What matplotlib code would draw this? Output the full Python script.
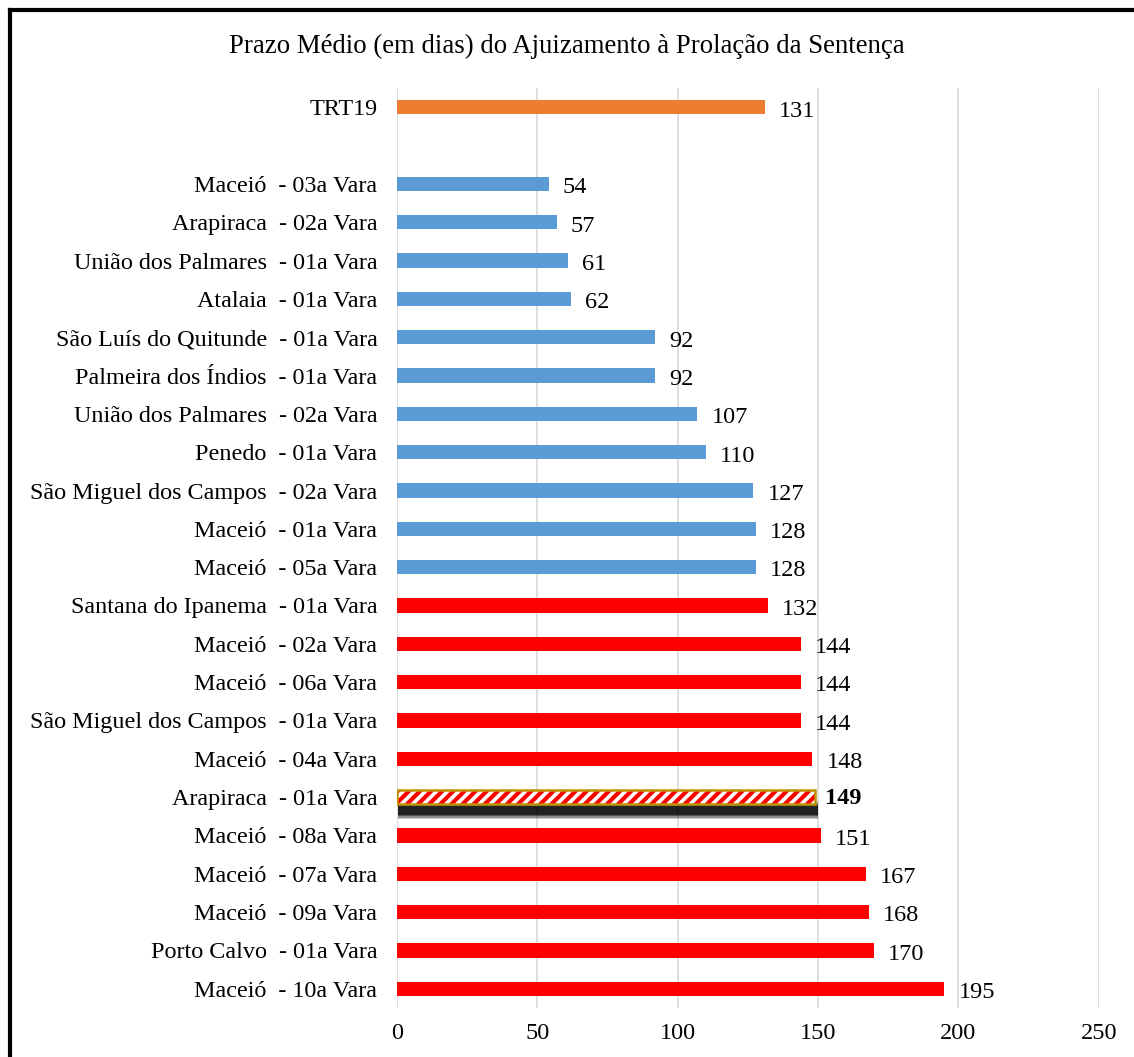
import matplotlib.pyplot as plt
from matplotlib.lines import Line2D

# dados do gráfico (de cima para baixo); '' = linha vazia
labels = ['TRT19', '',
          'Maceió  - 03a Vara', 'Arapiraca  - 02a Vara', 'União dos Palmares  - 01a Vara',
          'Atalaia  - 01a Vara', 'São Luís do Quitunde  - 01a Vara', 'Palmeira dos Índios  - 01a Vara',
          'União dos Palmares  - 02a Vara', 'Penedo  - 01a Vara', 'São Miguel dos Campos  - 02a Vara',
          'Maceió  - 01a Vara', 'Maceió  - 05a Vara', 'Santana do Ipanema  - 01a Vara',
          'Maceió  - 02a Vara', 'Maceió  - 06a Vara', 'São Miguel dos Campos  - 01a Vara',
          'Maceió  - 04a Vara', 'Arapiraca  - 01a Vara', 'Maceió  - 08a Vara',
          'Maceió  - 07a Vara', 'Maceió  - 09a Vara', 'Porto Calvo  - 01a Vara',
          'Maceió  - 10a Vara']
values = [131, None, 54, 57, 61, 62, 92, 92, 107, 110, 127, 128, 128,
          132, 144, 144, 144, 148, 149, 151, 167, 168, 170, 195]
groups = ['trt', None] + ['abaixo'] * 11 + ['acima'] * 11
destaque = 'Arapiraca  - 01a Vara'

cores = {'trt': '#ED7D31', 'abaixo': '#5B9BD5', 'acima': '#FF0000'}

plt.rcParams['font.family'] = ['Liberation Serif', 'DejaVu Serif']
plt.rcParams['hatch.linewidth'] = 3.0

fig = plt.figure(figsize=(11.34, 10.57), dpi=100)
ax = fig.add_axes([0.350, 0.0464, 0.619, 0.8703])

h = 0.37
for i, (lab, v, g) in enumerate(zip(labels, values, groups)):
    if v is None:
        continue
    if lab == destaque:
        # sombra desfocada abaixo da barra
        for hh, a in [(0.48, 0.2), (0.40, 0.3), (0.32, 0.4), (0.24, 0.6)]:
            ax.barh(i + 0.34, v + 0.8, height=hh, left=0.3, color='black', alpha=a,
                    linewidth=0, zorder=2)
        ax.barh(i, v, height=h, color='white', linewidth=0, zorder=3)
        ax.barh(i, v, height=h, color='none', edgecolor='#FF0000', hatch='///',
                linewidth=0, zorder=3)
        ax.barh(i, v, height=h, color='none', edgecolor='#BF9000', linewidth=1.8, zorder=4)
        ax.text(v + 3.5, i + 0.03, str(v), va='center', ha='left', fontsize=17.5, fontweight='bold')
    else:
        ax.barh(i, v, height=h, color=cores[g], zorder=3)
        ax.text(v + 5, i + 0.1, str(v), va='center', ha='left', fontsize=17.5)

ax.set_yticks(range(len(labels)))
ax.set_yticklabels(labels, fontsize=17.4)
ax.set_ylim(len(labels) - 0.5, -0.5)
ax.set_xlim(0, 250)
ax.set_xticks([0, 50, 100, 150, 200, 250])
ax.tick_params(axis='x', labelsize=17.5, length=0, pad=11)
ax.tick_params(axis='y', length=0, pad=14)
ax.grid(axis='x', color='#D9D9D9', linewidth=1.2, zorder=0)
for s in ax.spines.values():
    s.set_visible(False)

fig.text(0.5, 0.956, 'Prazo Médio (em dias) do Ajuizamento à Prolação da Sentença',
         ha='center', va='center', fontsize=19.3)

# moldura
fig.add_artist(Line2D([10 / 1134, 10 / 1134], [0, 1 - 10 / 1057], color='black', linewidth=3,
                      transform=fig.transFigure))
fig.add_artist(Line2D([10 / 1134, 1], [1 - 10 / 1057, 1 - 10 / 1057], color='black', linewidth=3,
                      transform=fig.transFigure))

fig.savefig('out.png', dpi=100)
